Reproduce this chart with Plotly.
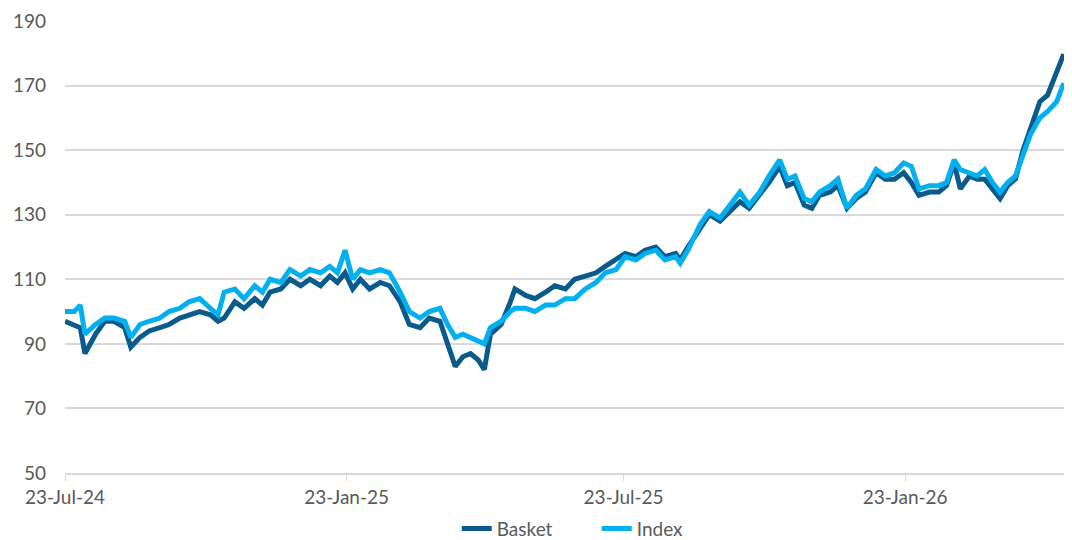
import plotly.graph_objects as go

dates = [
    "2024-07-23", "2024-07-29", "2024-08-02", "2024-08-05", "2024-08-12", "2024-08-18",
    "2024-08-24", "2024-08-31", "2024-09-04", "2024-09-10", "2024-09-16", "2024-09-23",
    "2024-09-29", "2024-10-06", "2024-10-12", "2024-10-19", "2024-10-26", "2024-10-31",
    "2024-11-04", "2024-11-11", "2024-11-17", "2024-11-24", "2024-11-29", "2024-12-04",
    "2024-12-11", "2024-12-17", "2024-12-24", "2024-12-30", "2025-01-06", "2025-01-12",
    "2025-01-17", "2025-01-22", "2025-01-27", "2025-02-01", "2025-02-07", "2025-02-14",
    "2025-02-20", "2025-02-27", "2025-03-05", "2025-03-12", "2025-03-18", "2025-03-25",
    "2025-03-30", "2025-04-04", "2025-04-09", "2025-04-14", "2025-04-19", "2025-04-23",
    "2025-04-27", "2025-05-04", "2025-05-10", "2025-05-13", "2025-05-20", "2025-05-26",
    "2025-06-02", "2025-06-08", "2025-06-15", "2025-06-21", "2025-06-28", "2025-07-05",
    "2025-07-11", "2025-07-18", "2025-07-24", "2025-07-31", "2025-08-06", "2025-08-13",
    "2025-08-19", "2025-08-26", "2025-08-29", "2025-09-03", "2025-09-11", "2025-09-17",
    "2025-09-24", "2025-09-30", "2025-10-07", "2025-10-13", "2025-10-20", "2025-10-26",
    "2025-11-02", "2025-11-07", "2025-11-12", "2025-11-18", "2025-11-23", "2025-11-28",
    "2025-12-05", "2025-12-10", "2025-12-16", "2025-12-22", "2025-12-28", "2026-01-04",
    "2026-01-10", "2026-01-16", "2026-01-22", "2026-01-27", "2026-02-01", "2026-02-08",
    "2026-02-14", "2026-02-19", "2026-02-24", "2026-02-28", "2026-03-06", "2026-03-11",
    "2026-03-16", "2026-03-21", "2026-03-26", "2026-03-31", "2026-04-05", "2026-04-10",
    "2026-04-15", "2026-04-21", "2026-04-26", "2026-05-02", "2026-05-06", "2026-05-11",
]

basket = [
    97, 96, 95, 87, 93, 97,
    97, 95, 89, 92, 94, 95,
    96, 98, 99, 100, 99, 97,
    98, 103, 101, 104, 102, 106,
    107, 110, 108, 110, 108, 111,
    109, 112, 107, 110, 107, 109,
    108, 103, 96, 95, 98, 97,
    90, 83, 86, 87, 85, 82,
    93, 96, 103, 107, 105, 104,
    106, 108, 107, 110, 111, 112,
    114, 116, 118, 117, 119, 120,
    117, 118, 116, 120, 126, 130,
    128, 131, 134, 132, 136, 140,
    145, 139, 140, 133, 132, 136,
    137, 139, 132, 135, 137, 143,
    141, 141, 143, 140, 136, 137,
    137, 139, 146, 138, 142, 141,
    141, 138, 135, 139, 141, 150,
    157, 165, 167, 174, 179, 178,
]

index = [
    100, 100, 102, 93, 96, 98,
    98, 97, 92, 96, 97, 98,
    100, 101, 103, 104, 101, 99,
    106, 107, 104, 108, 106, 110,
    109, 113, 111, 113, 112, 114,
    112, 119, 110, 113, 112, 113,
    112, 106, 100, 98, 100, 101,
    96, 92, 93, 92, 91, 90,
    95, 97, 100, 101, 101, 100,
    102, 102, 104, 104, 107, 109,
    112, 113, 117, 116, 118, 119,
    116, 117, 115, 119, 127, 131,
    129, 133, 137, 133, 137, 142,
    147, 141, 142, 135, 134, 137,
    139, 141, 132, 136, 138, 144,
    142, 143, 146, 145, 138, 139,
    139, 140, 147, 144, 143, 142,
    144, 140, 137, 140, 142, 149,
    155, 160, 162, 165, 170, 169,
]

tick_vals = ["2024-07-23", "2025-01-23", "2025-07-23", "2026-01-23"]
tick_text = ["23-Jul-24", "23-Jan-25", "23-Jul-25", "23-Jan-26"]

fig = go.Figure()
fig.add_trace(go.Scatter(x=dates, y=basket, name="Basket", mode="lines",
                         line=dict(color="#0b5a8c", width=5)))
fig.add_trace(go.Scatter(x=dates, y=index, name="Index", mode="lines",
                         line=dict(color="#00b0f0", width=5)))

# page body has an 8px margin, so the figure is sized to fill the remaining window
fig.update_layout(
    width=1064, height=532,
    margin=dict(l=57, r=0, t=13, b=67, autoexpand=False),
    paper_bgcolor="white", plot_bgcolor="white",
    font=dict(family="Lato, Liberation Sans, sans-serif", size=19, color="#595959"),
    legend=dict(orientation="h", x=0.389, xanchor="left", y=-0.123, yanchor="middle",
                font=dict(size=19, color="#595959"), tracegroupgap=0,
                entrywidth=95, entrywidthmode="pixels"),
    showlegend=True,
)
fig.update_xaxes(
    type="date", range=["2024-07-23", "2026-05-12"],
    tickvals=tick_vals, ticktext=tick_text, automargin=False,
    showgrid=False, showline=True, linecolor="#d9d9d9", linewidth=1.5,
    ticks="outside", ticklen=6, tickcolor="#d9d9d9", tickwidth=1,
    tickfont=dict(size=19, color="#595959"),
)
fig.update_yaxes(
    range=[50, 190], dtick=20, tick0=50, automargin=False,
    showgrid=True, gridcolor="#d9d9d9", gridwidth=1.5,
    zeroline=False, showline=False,
    ticks="", ticklabelstandoff=18,
    tickfont=dict(size=19, color="#595959"),
)

fig.write_html("out.html")
